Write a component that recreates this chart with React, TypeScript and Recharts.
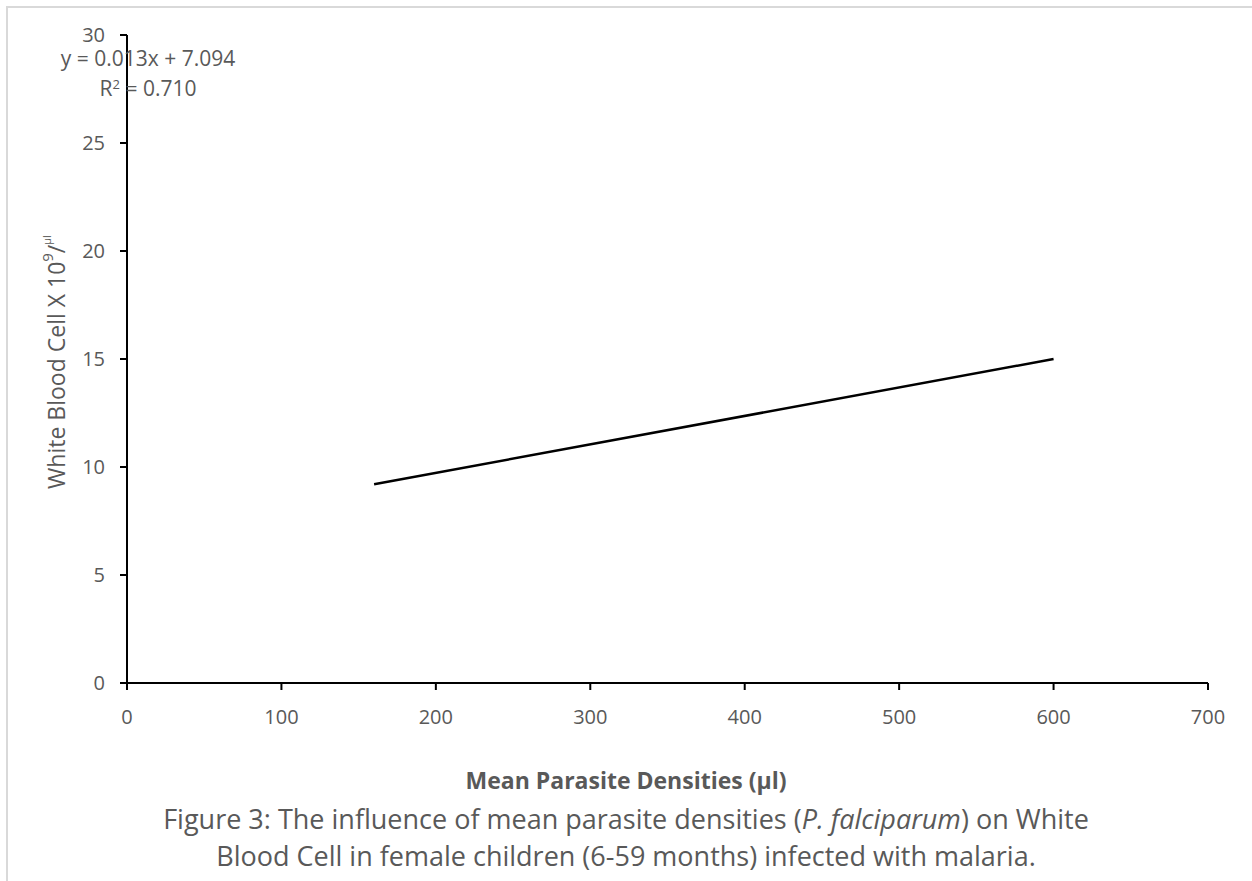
import { LineChart, Line, XAxis, YAxis, Label } from 'recharts';

// values
const parasiteDensity = [160, 600];
const whiteBloodCell = [9.2, 15.0];
const xTicks = [0, 100, 200, 300, 400, 500, 600, 700];
const yTicks = [0, 5, 10, 15, 20, 25, 30];
const equationText = 'y = 0.013x + 7.094';
const rSquaredText = '0.710';

const data = parasiteDensity.map((x, i) => ({ x, y: whiteBloodCell[i] }));

const FONT = "'Open Sans', sans-serif";
const GREY = '#595959';

const YLabel = () => (
  <text
    x={56}
    y={362}
    transform="rotate(-90, 56, 362)"
    textAnchor="middle"
    dominantBaseline="central"
    fill={GREY}
    fontFamily={FONT}
    fontSize={23}
  >
    White Blood Cell X 10
    <tspan fontSize={15} dy={-9}>9</tspan>
    <tspan fontSize={23} dy={9}>/</tspan>
    <tspan fontSize={11} dy={-10}>µl</tspan>
  </text>
);

export default function App() {
  return (
    <div style={{ position: 'absolute', left: 0, top: 0, width: 1252, height: 881, background: '#fff', overflow: 'hidden' }}>
      <div
        style={{
          position: 'absolute',
          left: 6,
          top: 6,
          width: 1246,
          height: 875,
          borderLeft: '2px solid #d9d9d9',
          borderTop: '2px solid #d9d9d9',
          boxSizing: 'border-box',
        }}
      />
      <div style={{ position: 'absolute', left: 0, top: 0 }}>
        <LineChart width={1252} height={881} data={data} margin={{ top: 35, right: 44, left: 0, bottom: 0 }}>
          <XAxis
            type="number"
            dataKey="x"
            domain={[0, 700]}
            ticks={xTicks}
            height={198}
            axisLine={{ stroke: '#000', strokeWidth: 2 }}
            tickLine={{ stroke: '#000', strokeWidth: 2 }}
            tickSize={7}
            tickMargin={20}
            tick={{ fill: GREY, fontSize: 20, fontFamily: FONT }}
          />
          <YAxis
            type="number"
            domain={[0, 30]}
            ticks={yTicks}
            width={127}
            axisLine={{ stroke: '#000', strokeWidth: 2 }}
            tickLine={{ stroke: '#000', strokeWidth: 2 }}
            tickSize={7}
            tickMargin={15}
            tick={{ fill: GREY, fontSize: 20, fontFamily: FONT }}
          >
            <Label content={<YLabel />} />
          </YAxis>
          <Line
            type="linear"
            dataKey="y"
            stroke="#000"
            strokeWidth={2.5}
            dot={false}
            isAnimationActive={false}
          />
        </LineChart>
      </div>
      <div style={{ position: 'absolute', left: 48, top: 43, width: 200, textAlign: 'center', color: GREY, fontFamily: FONT, fontSize: 21, lineHeight: '30px' }}>
        <div>{equationText}</div>
        <div>
          R<sup style={{ fontSize: 13, verticalAlign: 'top', lineHeight: '22px' }}>2</sup> = {rSquaredText}
        </div>
      </div>
      <div style={{ position: 'absolute', left: 0, top: 765, width: 1252, textAlign: 'center', color: GREY, fontFamily: FONT, fontSize: 23, fontWeight: 700, lineHeight: '30px' }}>
        Mean Parasite Densities (µl)
      </div>
      <div style={{ position: 'absolute', left: 0, top: 800, width: 1252, textAlign: 'center', color: GREY, fontFamily: FONT, fontSize: 27, lineHeight: '37px' }}>
        <div>
          Figure 3: The influence of mean parasite densities (<i>P. falciparum</i>) on White
        </div>
        <div>Blood Cell in female children (6-59 months) infected with malaria.</div>
      </div>
    </div>
  );
}
